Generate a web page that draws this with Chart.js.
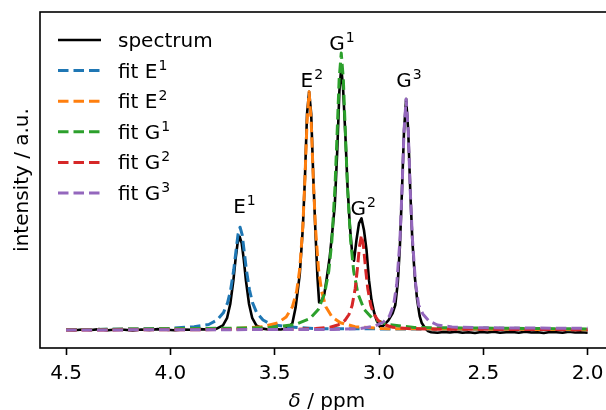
<!DOCTYPE html>
<html>
<head>
<meta charset="utf-8">
<script src="https://cdn.jsdelivr.net/npm/chart.js@4/dist/chart.umd.min.js"></script>
<style>
  body { margin: 0; background: #fff; }
  #wrap { width: 606px; height: 410px; overflow: hidden; }
</style>
</head>
<body>
<div id="wrap"><canvas id="nmr" width="616" height="410"></canvas></div>
<script>
// measured spectrum
const specPpm = [4.50, 4.46, 4.42, 4.38, 4.34, 4.30, 4.26, 4.22, 4.18, 4.14, 4.10, 4.06, 4.02, 3.98, 3.94, 3.90, 3.86, 3.82,
  3.795, 3.778, 3.748, 3.728, 3.713, 3.698, 3.688, 3.678, 3.668, 3.658, 3.648, 3.638, 3.623, 3.608, 3.588, 3.558,
  3.53, 3.50, 3.47, 3.44, 3.415, 3.400, 3.390, 3.380, 3.365, 3.355, 3.345, 3.335, 3.325, 3.315, 3.305, 3.295, 3.287,
  3.275, 3.262, 3.250, 3.236, 3.222, 3.212, 3.200, 3.190, 3.181, 3.172, 3.161, 3.151, 3.140, 3.130, 3.120,
  3.108, 3.096, 3.084, 3.072, 3.060, 3.048, 3.036, 3.024, 3.012, 2.996, 2.980, 2.955, 2.935, 2.922, 2.910,
  2.900, 2.890, 2.880, 2.870, 2.860, 2.850, 2.840, 2.828, 2.817, 2.805, 2.795, 2.780, 2.765, 2.75,
  2.72, 2.69, 2.66, 2.63, 2.60, 2.57, 2.54, 2.51, 2.48, 2.45, 2.42, 2.39, 2.36, 2.33, 2.30, 2.27, 2.24, 2.21,
  2.18, 2.15, 2.12, 2.09, 2.06, 2.03, 2.00];
const specInt = [0.001, -0.001, 0.002, 0.000, 0.003, -0.001, 0.002, 0.001, -0.002, 0.002, 0.000, 0.003, 0.001, -0.001, 0.002, 0.001, 0.003, 0.002,
  0.003, 0.005, 0.017, 0.044, 0.094, 0.179, 0.253, 0.313, 0.337, 0.313, 0.253, 0.179, 0.094, 0.044, 0.017, 0.005,
  0.002, 0.003, 0.002, 0.006, 0.025, 0.080, 0.140, 0.200, 0.370, 0.550, 0.780, 0.860, 0.780, 0.550, 0.360, 0.190, 0.100,
  0.105, 0.130, 0.190, 0.265, 0.370, 0.450, 0.650, 0.860, 0.950, 0.870, 0.700, 0.520, 0.380, 0.290, 0.250,
  0.325, 0.385, 0.403, 0.360, 0.290, 0.180, 0.108, 0.065, 0.036, 0.012, 0.015, 0.035, 0.060, 0.090, 0.170,
  0.300, 0.500, 0.720, 0.834, 0.720, 0.500, 0.320, 0.190, 0.108, 0.050, 0.025, 0.008, -0.004, -0.008,
  -0.010, -0.007, -0.009, -0.006, -0.010, -0.008, -0.011, -0.007, -0.009, -0.006, -0.010, -0.008, -0.007, -0.010, -0.006, -0.009, -0.008, -0.011,
  -0.007, -0.008, -0.010, -0.006, -0.009, -0.008, -0.010];

// fitted components
const fitE1Ppm = [4.5, 4.016, 3.886, 3.816, 3.776, 3.746, 3.726, 3.711, 3.696, 3.686, 3.676, 3.666,
  3.656, 3.646, 3.636, 3.621, 3.606, 3.586, 3.556, 3.516, 3.446, 3.316, 2.0];
const fitE1 = [0.001, 0.005, 0.012, 0.020, 0.036, 0.062, 0.098, 0.145, 0.219, 0.283, 0.344, 0.371,
  0.344, 0.283, 0.219, 0.145, 0.098, 0.062, 0.036, 0.020, 0.012, 0.005, 0.001];

const fitE2Ppm = [4.5, 3.685, 3.555, 3.485, 3.445, 3.415, 3.395, 3.380, 3.365, 3.355, 3.345, 3.335,
  3.325, 3.315, 3.305, 3.290, 3.275, 3.255, 3.225, 3.185, 3.115, 2.985, 2.0];
const fitE2 = [0.001, 0.005, 0.012, 0.026, 0.047, 0.084, 0.139, 0.220, 0.375, 0.546, 0.752, 0.860,
  0.752, 0.546, 0.375, 0.220, 0.139, 0.084, 0.047, 0.026, 0.012, 0.005, 0.001];

const fitG1Ppm = [4.5, 3.531, 3.401, 3.331, 3.291, 3.261, 3.241, 3.226, 3.211, 3.201, 3.191, 3.181,
  3.171, 3.161, 3.151, 3.136, 3.121, 3.101, 3.071, 3.031, 2.961, 2.831, 2.0];
const fitG1 = [0.001, 0.008, 0.020, 0.041, 0.074, 0.131, 0.211, 0.322, 0.516, 0.706, 0.906, 1.000,
  0.906, 0.706, 0.516, 0.322, 0.211, 0.131, 0.074, 0.041, 0.020, 0.009, 0.004];

const fitG2Ppm = [4.5, 3.434, 3.304, 3.234, 3.194, 3.164, 3.144, 3.129, 3.114, 3.104, 3.094, 3.084,
  3.074, 3.064, 3.054, 3.039, 3.024, 3.004, 2.974, 2.934, 2.864, 2.734, 2.0];
const fitG2 = [0.000, 0.002, 0.005, 0.010, 0.019, 0.034, 0.056, 0.088, 0.150, 0.218, 0.300, 0.343,
  0.300, 0.218, 0.150, 0.088, 0.056, 0.034, 0.019, 0.010, 0.005, 0.003, 0.001];

const fitG3Ppm = [4.5, 3.220, 3.090, 3.020, 2.980, 2.950, 2.930, 2.915, 2.900, 2.890, 2.880, 2.870,
  2.860, 2.850, 2.840, 2.825, 2.810, 2.790, 2.760, 2.720, 2.650, 2.520, 2.0];
const fitG3 = [0.000, 0.002, 0.005, 0.014, 0.028, 0.050, 0.090, 0.165, 0.320, 0.500, 0.720, 0.834,
  0.720, 0.500, 0.330, 0.170, 0.090, 0.058, 0.032, 0.018, 0.011, 0.008, 0.006];

const ppmTicks = [4.5, 4.0, 3.5, 3.0, 2.5, 2.0];

const legendText = ['spectrum', 'fit E', 'fit E', 'fit G', 'fit G', 'fit G'];
const legendSup = ['', '1', '2', '1', '2', '3'];

const peakText = ['E', 'E', 'G', 'G', 'G'];
const peakSup = ['1', '2', '1', '2', '3'];
const peakPpm = [3.645, 3.322, 3.178, 3.076, 2.857];
const peakInt = [0.422, 0.878, 1.011, 0.415, 0.876];

const colors = ['#000000', '#1f77b4', '#ff7f0e', '#2ca02c', '#d62728', '#9467bd'];
const FONT = '"DejaVu Sans", sans-serif';

function pts(xs, ys) {
  return xs.map((v, i) => ({ x: v, y: ys[i] }));
}

// text with a raised small index, e.g. E¹
function supText(ctx, base, sup, x, y, center) {
  ctx.font = '20px ' + FONT;
  const w1 = ctx.measureText(base).width;
  ctx.font = '14px ' + FONT;
  const w2 = sup ? ctx.measureText(sup).width + 1 : 0;
  const x0 = center ? x - (w1 + w2) / 2 : x;
  ctx.font = '20px ' + FONT;
  ctx.fillText(base, x0, y);
  if (sup) {
    ctx.font = '14px ' + FONT;
    ctx.fillText(sup, x0 + w1 + 1, y - 8);
  }
}

const decorations = {
  id: 'decorations',
  afterDraw(chart) {
    const { ctx, chartArea: a, scales } = chart;
    ctx.save();
    ctx.strokeStyle = '#000';
    ctx.lineWidth = 1.6;
    ctx.strokeRect(a.left, a.top, a.right - a.left, a.bottom - a.top);

    ctx.fillStyle = '#000';
    ctx.textBaseline = 'alphabetic';
    ctx.textAlign = 'left';

    // peak labels
    for (let i = 0; i < peakText.length; i++) {
      supText(ctx, peakText[i], peakSup[i], scales.x.getPixelForValue(peakPpm[i]),
        scales.y.getPixelForValue(peakInt[i]), true);
    }

    // legend
    for (let i = 0; i < legendText.length; i++) {
      const yy = 40 + i * 30.6;
      ctx.beginPath();
      ctx.strokeStyle = colors[i];
      ctx.lineWidth = i === 0 ? 2.6 : 3;
      ctx.setLineDash(i === 0 ? [] : [10.5, 5]);
      ctx.moveTo(58, yy);
      ctx.lineTo(101, yy);
      ctx.stroke();
      ctx.setLineDash([]);
      ctx.fillStyle = '#000';
      supText(ctx, legendText[i], legendSup[i], 118, yy + 7, false);
    }

    // axis titles
    ctx.font = '20px ' + FONT;
    ctx.save();
    ctx.translate(28, (a.top + a.bottom) / 2);
    ctx.rotate(-Math.PI / 2);
    ctx.textAlign = 'center';
    ctx.fillText('intensity / a.u.', 0, 0);
    ctx.restore();

    ctx.font = 'italic 20px ' + FONT;
    const wd = ctx.measureText('δ').width;
    ctx.font = '20px ' + FONT;
    const wr = ctx.measureText(' / ppm').width;
    const xc = (a.left + a.right) / 2 - (wd + wr) / 2;
    ctx.font = 'italic 20px ' + FONT;
    ctx.fillText('δ', xc, 407);
    ctx.font = '20px ' + FONT;
    ctx.fillText(' / ppm', xc + wd, 407);
    ctx.restore();
  }
};

function fitSet(label, xs, ys, color, order) {
  return {
    label: label,
    data: pts(xs, ys),
    borderColor: color,
    borderWidth: 3,
    borderDash: [10.5, 5],
    borderCapStyle: 'butt',
    borderJoinStyle: 'round',
    pointRadius: 0,
    fill: false,
    order: order
  };
}

new Chart(document.getElementById('nmr'), {
  type: 'line',
  data: {
    datasets: [
      {
        label: 'spectrum',
        data: pts(specPpm, specInt),
        borderColor: colors[0],
        borderWidth: 2.6,
        borderJoinStyle: 'round',
        pointRadius: 0,
        fill: false,
        order: 6
      },
      fitSet('fit E1', fitE1Ppm, fitE1, colors[1], 5),
      fitSet('fit E2', fitE2Ppm, fitE2, colors[2], 4),
      fitSet('fit G1', fitG1Ppm, fitG1, colors[3], 3),
      fitSet('fit G2', fitG2Ppm, fitG2, colors[4], 2),
      fitSet('fit G3', fitG3Ppm, fitG3, colors[5], 1)
    ]
  },
  options: {
    responsive: false,
    animation: false,
    devicePixelRatio: 1,
    layout: { padding: { left: 40, top: 12, right: 2.3, bottom: 0 } },
    plugins: {
      legend: { display: false },
      tooltip: { enabled: false }
    },
    scales: {
      x: {
        type: 'linear',
        reverse: true,
        min: 1.875,
        max: 4.625,
        afterBuildTicks: s => { s.ticks = ppmTicks.map(v => ({ value: v })); },
        afterFit: s => { s.height = 62; },
        border: { display: false },
        grid: { drawOnChartArea: false, drawTicks: true, tickLength: 7, tickWidth: 1.6, tickColor: '#000' },
        ticks: {
          padding: 7,
          color: '#000',
          font: { family: FONT, size: 20 },
          maxRotation: 0,
          callback: v => v.toFixed(1)
        }
      },
      y: {
        display: false,
        min: -0.065,
        max: 1.148
      }
    }
  },
  plugins: [decorations]
});
</script>
</body>
</html>
